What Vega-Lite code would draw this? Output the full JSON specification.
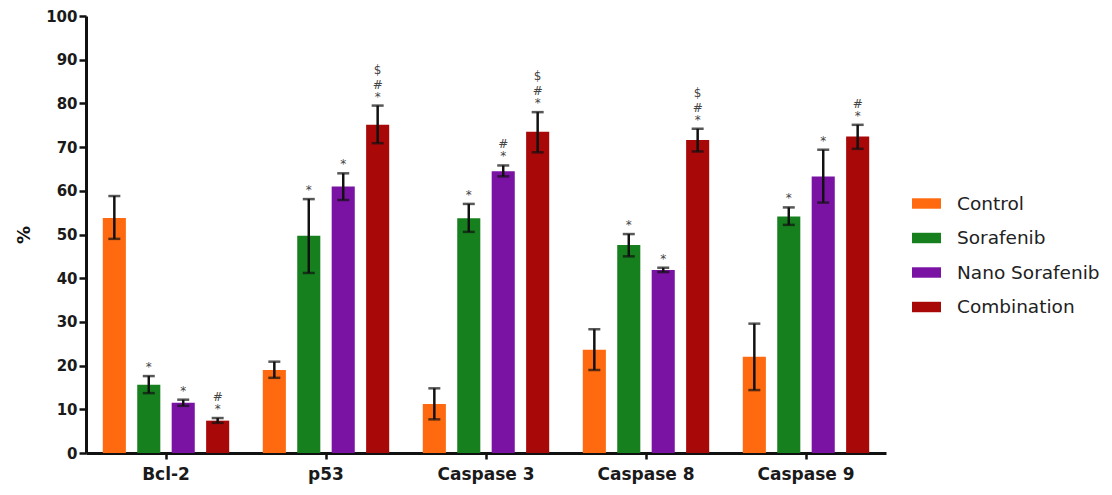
{
  "$schema": "https://vega.github.io/schema/vega-lite/v6.json",
  "width": 800,
  "height": 437,
  "autosize": "none",
  "padding": {"left": 86, "top": 16, "right": 226, "bottom": 42},
  "background": "white",
  "config": {
    "view": {"stroke": null},
    "font": "DejaVu Sans"
  },
  "data": {
    "values": [
      {"gene": "Bcl-2", "group": "Control", "value": 53.8, "lo": 49.0, "hi": 58.8, "s1": "", "s2": "", "s3": ""},
      {"gene": "Bcl-2", "group": "Sorafenib", "value": 15.6, "lo": 13.7, "hi": 17.6, "s1": "*", "s2": "", "s3": ""},
      {"gene": "Bcl-2", "group": "Nano Sorafenib", "value": 11.5, "lo": 10.8, "hi": 12.2, "s1": "*", "s2": "", "s3": ""},
      {"gene": "Bcl-2", "group": "Combination", "value": 7.4, "lo": 6.9, "hi": 8.0, "s1": "*", "s2": "#", "s3": ""},
      {"gene": "p53", "group": "Control", "value": 19.0, "lo": 17.2, "hi": 20.9, "s1": "", "s2": "", "s3": ""},
      {"gene": "p53", "group": "Sorafenib", "value": 49.7, "lo": 41.2, "hi": 58.1, "s1": "*", "s2": "", "s3": ""},
      {"gene": "p53", "group": "Nano Sorafenib", "value": 61.0, "lo": 57.9, "hi": 64.0, "s1": "*", "s2": "", "s3": ""},
      {"gene": "p53", "group": "Combination", "value": 75.1, "lo": 70.9, "hi": 79.5, "s1": "*", "s2": "#", "s3": "$"},
      {"gene": "Caspase 3", "group": "Control", "value": 11.2, "lo": 7.7, "hi": 14.8, "s1": "", "s2": "", "s3": ""},
      {"gene": "Caspase 3", "group": "Sorafenib", "value": 53.7, "lo": 50.6, "hi": 57.0, "s1": "*", "s2": "", "s3": ""},
      {"gene": "Caspase 3", "group": "Nano Sorafenib", "value": 64.5, "lo": 63.3, "hi": 65.8, "s1": "*", "s2": "#", "s3": ""},
      {"gene": "Caspase 3", "group": "Combination", "value": 73.5, "lo": 68.8, "hi": 78.0, "s1": "*", "s2": "#", "s3": "$"},
      {"gene": "Caspase 8", "group": "Control", "value": 23.6, "lo": 19.0, "hi": 28.3, "s1": "", "s2": "", "s3": ""},
      {"gene": "Caspase 8", "group": "Sorafenib", "value": 47.6, "lo": 45.0, "hi": 50.1, "s1": "*", "s2": "", "s3": ""},
      {"gene": "Caspase 8", "group": "Nano Sorafenib", "value": 41.9, "lo": 41.4, "hi": 42.4, "s1": "*", "s2": "", "s3": ""},
      {"gene": "Caspase 8", "group": "Combination", "value": 71.6, "lo": 69.0, "hi": 74.2, "s1": "*", "s2": "#", "s3": "$"},
      {"gene": "Caspase 9", "group": "Control", "value": 22.0, "lo": 14.4, "hi": 29.6, "s1": "", "s2": "", "s3": ""},
      {"gene": "Caspase 9", "group": "Sorafenib", "value": 54.1, "lo": 52.2, "hi": 56.2, "s1": "*", "s2": "", "s3": ""},
      {"gene": "Caspase 9", "group": "Nano Sorafenib", "value": 63.3, "lo": 57.3, "hi": 69.4, "s1": "*", "s2": "", "s3": ""},
      {"gene": "Caspase 9", "group": "Combination", "value": 72.4, "lo": 69.6, "hi": 75.1, "s1": "*", "s2": "#", "s3": ""}
    ]
  },
  "encoding": {
    "x": {
      "field": "gene", "type": "nominal", "sort": null,
      "scale": {"paddingInner": 0.21, "paddingOuter": 0.105},
      "axis": {
        "title": null, "labelAngle": 0, "labelFontSize": 17, "labelFontWeight": "bold",
        "labelColor": "#1a1a1a", "domainColor": "#111", "domainWidth": 3,
        "tickColor": "#111", "tickWidth": 2.5, "tickSize": 6, "labelPadding": 7
      }
    },
    "xOffset": {
      "field": "group", "type": "nominal",
      "sort": ["Control", "Sorafenib", "Nano Sorafenib", "Combination"],
      "scale": {"paddingInner": 0.33, "paddingOuter": 0}
    }
  },
  "layer": [
    {
      "mark": {"type": "bar"},
      "encoding": {
        "y": {
          "field": "value", "type": "quantitative",
          "scale": {"domain": [0, 100], "nice": false},
          "axis": {
            "title": "%", "titleFontSize": 18, "titleFontWeight": "bold", "titleColor": "#111",
            "titlePadding": 12, "values": [0, 10, 20, 30, 40, 50, 60, 70, 80, 90, 100],
            "grid": false, "labelFontSize": 15, "labelFontWeight": "bold", "labelColor": "#1a1a1a",
            "domainColor": "#111", "domainWidth": 3, "tickColor": "#111", "tickWidth": 2.5,
            "tickSize": 7, "labelPadding": 2
          }
        },
        "color": {
          "field": "group", "type": "nominal",
          "sort": ["Control", "Sorafenib", "Nano Sorafenib", "Combination"],
          "scale": {
            "domain": ["Control", "Sorafenib", "Nano Sorafenib", "Combination"],
            "range": ["#FF6A10", "#16801E", "#7A12A3", "#A80808"]
          },
          "legend": {
            "title": null, "orient": "none", "legendX": 826, "legendY": 173,
            "padding": 0,
            "symbolType": "M-1,-0.36H1V0.36H-1Z", "symbolSize": 841,
            "symbolStrokeWidth": 0, "symbolOpacity": 1,
            "labelFontSize": 18.5, "labelColor": "#222", "labelOffset": 16,
            "rowPadding": 10.5
          }
        }
      }
    },
    {
      "mark": {"type": "rule", "color": "#111", "strokeWidth": 2.5},
      "encoding": {
        "y": {"field": "lo", "type": "quantitative"},
        "y2": {"field": "hi"}
      }
    },
    {
      "mark": {"type": "tick", "color": "#111", "thickness": 2.5, "size": 12, "orient": "horizontal"},
      "encoding": {"y": {"field": "hi", "type": "quantitative"}}
    },
    {
      "mark": {"type": "tick", "color": "#111", "thickness": 2.5, "size": 12, "orient": "horizontal"},
      "encoding": {"y": {"field": "lo", "type": "quantitative"}}
    },
    {
      "mark": {"type": "text", "fontSize": 12, "color": "#444", "baseline": "bottom", "dy": -2},
      "encoding": {"y": {"field": "hi", "type": "quantitative"}, "text": {"field": "s1"}}
    },
    {
      "mark": {"type": "text", "fontSize": 12, "color": "#444", "baseline": "bottom", "dy": -14},
      "encoding": {"y": {"field": "hi", "type": "quantitative"}, "text": {"field": "s2"}}
    },
    {
      "mark": {"type": "text", "fontSize": 12, "color": "#444", "baseline": "bottom", "dy": -29},
      "encoding": {"y": {"field": "hi", "type": "quantitative"}, "text": {"field": "s3"}}
    }
  ]
}
